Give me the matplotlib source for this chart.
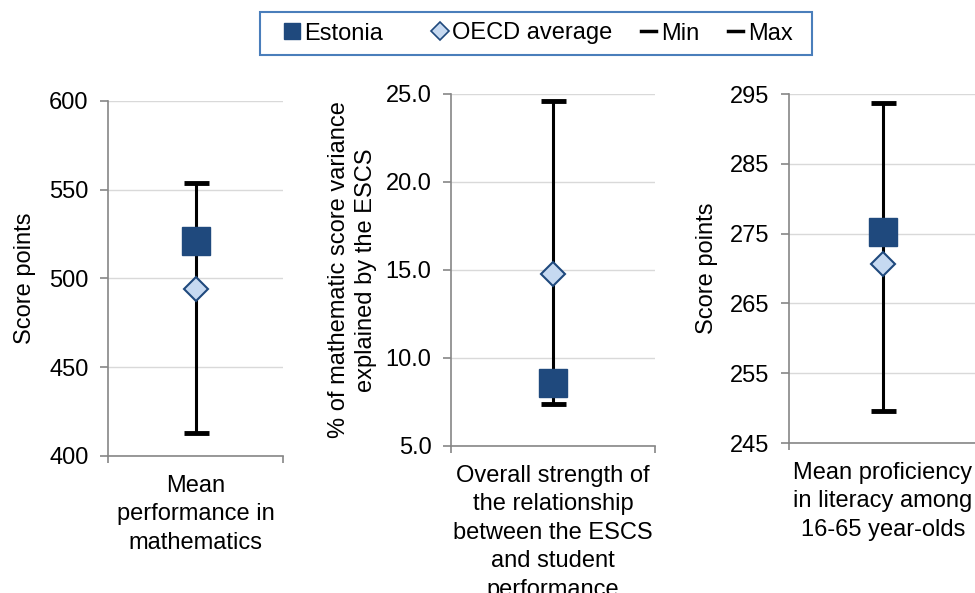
import matplotlib
matplotlib.use("Agg")
import matplotlib.pyplot as plt
from matplotlib.lines import Line2D
from matplotlib.patches import Rectangle
import matplotlib.transforms as mtransforms

plt.rcParams['font.family'] = ['Liberation Sans', 'DejaVu Sans']

# ---- data ----
categories = ["Mean\nperformance in\nmathematics",
              "Overall strength of\nthe relationship\nbetween the ESCS\nand student\nperformance",
              "Mean proficiency\nin literacy among\n16-65 year-olds"]
estonia = [521, 8.6, 275.2]
oecd_avg = [494, 14.8, 270.7]
min_vals = [413, 7.4, 249.6]
max_vals = [554, 24.6, 293.7]
ylabels = ["Score points", "% of mathematic score variance\nexplained by the ESCS", "Score points"]
ylims = [(400, 600), (5, 25), (245, 295)]
yticks = [[400, 450, 500, 550, 600], [5, 10, 15, 20, 25], [245, 255, 265, 275, 285, 295]]
ytick_fmt = ["{:.0f}", "{:.1f}", "{:.0f}"]
legend_labels = ["Estonia", "OECD average", "Min", "Max"]

W, H = 975, 593
fig = plt.figure(figsize=(W / 100, H / 100), dpi=100)

# pixel boxes: left, right, top, bottom
boxes = [(108, 283, 101, 456), (451, 655, 94, 446), (789, 977, 94, 443)]
label_x = [36, 377, 718]

dark = "#1F497D"
light = "#C6D9F1"
axcol = "#868686"
gridcol = "#D9D9D9"
FS = 17

for i in range(3):
    l, r, t, b = boxes[i]
    ax = fig.add_axes([l / W, (H - b) / H, (r - l) / W, (b - t) / H])
    ax.set_xlim(0, 1)
    ax.set_ylim(*ylims[i])
    ax.set_yticks(yticks[i])
    ax.set_yticklabels([ytick_fmt[i].format(v) for v in yticks[i]])
    ax.yaxis.grid(True, color=gridcol, linewidth=1)
    ax.set_axisbelow(True)
    for s in ["top", "right"]:
        ax.spines[s].set_visible(False)
    for s in ["left", "bottom"]:
        ax.spines[s].set_color(axcol)
        ax.spines[s].set_linewidth(1.2)
    ax.tick_params(axis="y", colors=axcol, labelcolor="black", labelsize=FS, length=6, width=1.2, pad=8)
    ax.set_xticks([0, 1])
    ax.set_xticklabels(["", ""])
    ax.tick_params(axis="x", colors=axcol, length=5, width=1.2)
    x = 0.5
    ax.plot([x, x], [min_vals[i], max_vals[i]], color="black", linewidth=2.2, zorder=3, solid_capstyle="butt")
    ax.plot([x], [min_vals[i]], marker="_", markersize=18, markeredgewidth=3.5, color="black", zorder=3)
    ax.plot([x], [max_vals[i]], marker="_", markersize=18, markeredgewidth=3.5, color="black", zorder=3)
    ax.plot([x], [oecd_avg[i]], marker="D", markersize=12, markerfacecolor=light,
            markeredgecolor=dark, markeredgewidth=1.5, linestyle="none", zorder=4)
    ax.plot([x], [estonia[i]], marker="s", markersize=20, markerfacecolor=dark,
            markeredgecolor=dark, linestyle="none", zorder=5)
    ax.set_ylabel(ylabels[i], fontsize=FS, linespacing=1.3)
    ax.yaxis.set_label_coords((label_x[i] - l) / (r - l), 0.5)
    trans = ax.transAxes + mtransforms.ScaledTranslation(0, -19 / 100, fig.dpi_scale_trans)
    ax.text(0.5, 0.0, categories[i], transform=trans, ha="center", va="top",
            fontsize=FS, linespacing=1.38, clip_on=False)

handles = [
    Line2D([], [], marker="s", markersize=12, color=dark, linestyle="none"),
    Line2D([], [], marker="D", markersize=9, markerfacecolor=light, markeredgecolor=dark,
           markeredgewidth=1.2, linestyle="none"),
    Line2D([], [], color="black", linewidth=2.5),
    Line2D([], [], color="black", linewidth=2.5),
]
entry_x = [284, 432, 641, 728]
for h, lab, ex in zip(handles, legend_labels, entry_x):
    fig.legend([h], [lab], loc="center left", bbox_to_anchor=(ex / W, 1 - 33.5 / H),
               fontsize=FS, frameon=False, handlelength=0.65, handletextpad=0.2,
               borderpad=0, borderaxespad=0)
fig.patches.append(Rectangle((260 / W, 1 - 55 / H), (812 - 260) / W, 43 / H, transform=fig.transFigure,
                             fill=False, edgecolor="#4A7EBB", linewidth=1.5))

fig.savefig("out.png", dpi=100)
